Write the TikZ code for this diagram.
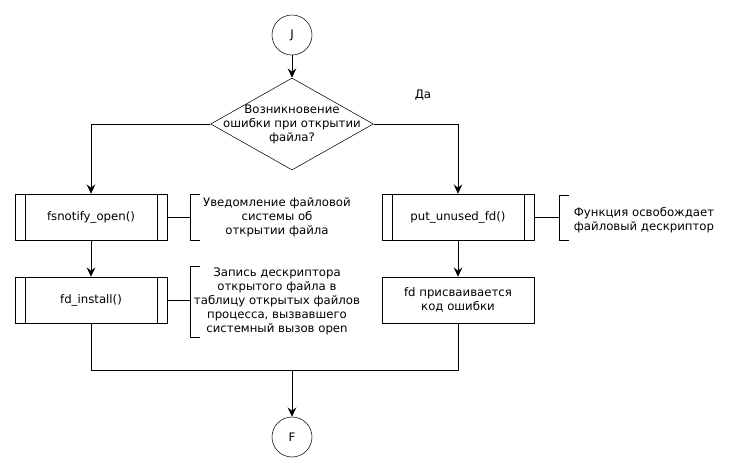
\documentclass[tikz,border=0pt]{standalone}
\usepackage{fontspec}
\setmainfont{DejaVu Sans}
\usepackage{xcolor}
\usetikzlibrary{arrows.meta, positioning, shapes.geometric}
\tikzstyle{termin} = [circle, minimum size=30pt, inner sep=0pt, text centered, draw=black]
\tikzstyle{process} = [rectangle, minimum width=114pt, minimum height=34.5pt, inner sep=0pt, align=center, draw=black]
\tikzstyle{subproc} = [process, path picture={
  \draw ([xshift=7.5pt]path picture bounding box.north west) -- ([xshift=7.5pt]path picture bounding box.south west);
  \draw ([xshift=-7.5pt]path picture bounding box.north east) -- ([xshift=-7.5pt]path picture bounding box.south east);}]
\tikzstyle{decision} = [diamond, minimum width=122pt, minimum height=69pt, inner sep=0pt, draw=black]
\tikzstyle{note} = [align=center, inner sep=0pt]
\tikzstyle{line} = [semithick]
\tikzstyle{arrow} = [semithick,-{Stealth[length=7pt,width=6.5pt,inset=2.5pt]}]

\begin{document}
\begin{tikzpicture}[x=0.75pt, y=-0.75pt, font=\fontsize{8.8}{10.5}\selectfont]
\useasboundingbox[fill=white] (0,0) rectangle (738,472);

\node (start) [termin] at (292,35) {J};
\node (check) [decision] at (292,124) {};
\node (checktext) [note] at (292,124) {Возникновение\\ошибки при открытии\\файла?};
\node (yes) [note] at (423,95) {Да};

\node (notify) [subproc] at (91,217) {fsnotify\_open()};
\node (install) [subproc] at (91,300) {fd\_install()};
\node (unused) [subproc] at (458,217) {put\_unused\_fd()};
\node (errcode) [process] at (458,300) {fd присваивается\\код ошибки};
\node (stop) [termin] at (292,437) {F};

% comments
\node (notifynote) [note] at (277,217) {Уведомление файловой\\системы об\\открытии файла};
\node (installnote) [note] at (277,301) {Запись дескриптора\\открытого файла в\\таблицу открытых файлов\\процесса, вызвавшего\\системный вызов open};
\node (unusednote) [note] at (644,220) {Функция освобождает\\файловый дескриптор};
\coordinate (merge) at (292,370);

\draw [arrow] (start) -- (check);
\draw [arrow] (check.west) -| (notify.north);
\draw [arrow] (check.east) -| (unused.north);
\draw [arrow] (notify) -- (install);
\draw [arrow] (unused) -- (errcode);
\draw [line] (install.south) |- (merge) -| (errcode.south);
\draw [arrow] (merge) -- (stop);

% brackets
\draw [line] (notify.east) -- (190,217);
\draw [line] (200,194) -- (190,194) -- (190,240) -- (200,240);
\draw [line] (install.east) -- (190,300);
\draw [line] (200,266) -- (190,266) -- (190,337) -- (200,337);
\draw [line] (unused.east) -- (559,217);
\draw [line] (569,195) -- (559,195) -- (559,240) -- (569,240);
\end{tikzpicture}
\end{document}
